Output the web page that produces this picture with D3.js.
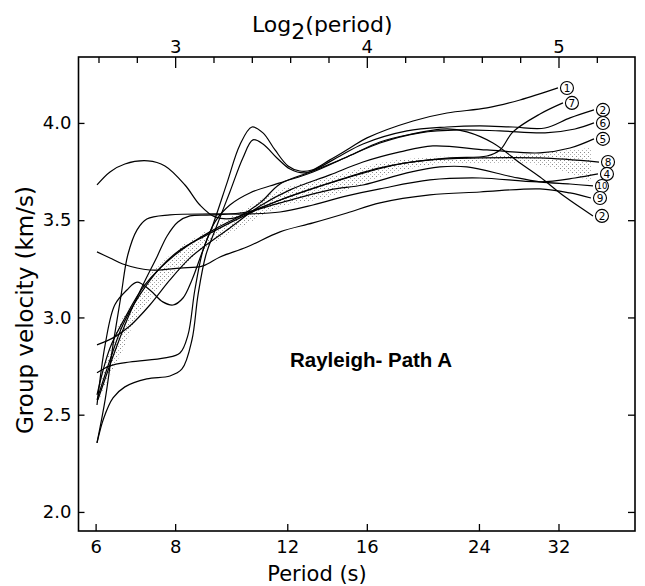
<!DOCTYPE html>
<html>
<head>
<meta charset="utf-8">
<script src="https://cdn.jsdelivr.net/npm/d3@7"></script>
<style>
body { margin: 0; background: #fff; }
text { font-family: "DejaVu Sans", sans-serif; fill: #000; }
</style>
</head>
<body>
<div id="chart"></div>
<script>
// [period (s), group velocity (km/s)]
var curve1 = [[6.03,2.715],[6.32,2.751],[6.79,2.771],[7.71,2.792],[8.14,2.817],[8.38,2.91],[8.59,3.141],[8.85,3.347],[9.17,3.476],[9.65,3.692],[10.11,3.887],[10.56,3.979],[10.99,3.949],[11.48,3.861],[12.03,3.779],[12.56,3.753],[13.12,3.758],[14.0,3.81],[15.05,3.871],[16.01,3.923],[18.91,4.01],[21.38,4.051],[24.71,4.077],[27.84,4.118],[31.94,4.18]];
var curve2 = [[6.03,2.355],[6.18,2.483],[6.39,2.586],[6.67,2.643],[7.22,2.684],[7.85,2.699],[8.2,2.735],[8.5,2.884],[8.69,3.116],[8.94,3.321],[9.27,3.46],[9.75,3.645],[10.22,3.82],[10.6,3.913],[10.99,3.892],[11.56,3.82],[12.12,3.763],[12.79,3.743],[13.51,3.774],[14.52,3.83],[15.78,3.892],[18.5,3.959],[21.38,3.979],[24.09,3.985],[27.14,3.979],[30.48,3.974],[33.36,4.026],[36.38,4.067]];
var curve6 = [[6.03,2.55],[6.21,2.859],[6.43,3.064],[6.72,3.141],[6.97,3.182],[7.3,3.141],[7.65,3.08],[7.94,3.064],[8.23,3.1],[8.5,3.193],[8.85,3.347],[9.24,3.491],[9.75,3.578],[10.48,3.64],[11.69,3.692],[13.17,3.748],[14.89,3.825],[16.78,3.897],[19.39,3.949],[22.41,3.964],[25.9,3.959],[30.48,3.949],[33.97,3.969],[36.38,4.0]];
var curve5 = [[6.03,2.859],[6.39,2.895],[6.79,2.956],[7.3,3.064],[7.85,3.193],[8.44,3.306],[8.91,3.368],[9.75,3.46],[10.87,3.573],[12.12,3.656],[14.0,3.733],[15.78,3.799],[18.04,3.851],[20.32,3.882],[24.71,3.861],[29.93,3.846],[33.36,3.871],[36.38,3.918]];
var curve8 = [[6.03,2.576],[6.32,2.781],[6.62,2.961],[7.04,3.116],[7.57,3.254],[8.14,3.347],[8.91,3.419],[10.11,3.512],[11.69,3.604],[14.0,3.692],[16.78,3.769],[20.1,3.81],[24.09,3.82],[29.93,3.82],[37.05,3.799]];
var curve7 = [[6.03,2.602],[6.32,2.843],[6.67,2.997],[7.17,3.167],[7.99,3.321],[9.07,3.44],[10.48,3.542],[12.56,3.64],[15.05,3.722],[18.04,3.789],[21.61,3.82],[24.71,3.83],[25.9,3.861],[27.14,3.954],[29.93,4.046],[32.52,4.103]];
var curve4 = [[6.03,2.355],[6.21,2.576],[6.39,2.859],[6.58,3.116],[6.74,3.321],[6.97,3.45],[7.22,3.506],[7.85,3.527],[9.17,3.532],[10.37,3.532],[11.69,3.542],[13.17,3.578],[14.89,3.625],[16.78,3.661],[20.1,3.707],[24.09,3.717],[29.93,3.697],[33.97,3.717],[36.91,3.738]];
var curve10 = [[6.05,2.576],[6.36,2.781],[6.72,2.987],[7.12,3.167],[7.49,3.311],[7.77,3.419],[8.08,3.491],[8.44,3.522],[9.17,3.527],[10.37,3.542],[11.69,3.589],[14.0,3.656],[15.78,3.681],[18.5,3.743],[20.84,3.774],[22.98,3.774],[27.14,3.722],[29.93,3.697],[33.36,3.686],[36.25,3.676]];
var curve9 = [[6.03,3.337],[6.32,3.306],[6.62,3.275],[7.3,3.244],[8.14,3.254],[8.85,3.265],[9.41,3.311],[10.37,3.362],[11.69,3.44],[13.17,3.486],[14.89,3.537],[16.78,3.589],[20.1,3.63],[24.09,3.645],[29.93,3.661],[33.36,3.64],[35.99,3.614]];
var curve3 = [[6.03,3.681],[6.32,3.748],[6.67,3.789],[7.25,3.805],[7.71,3.779],[8.29,3.681],[8.75,3.578],[9.24,3.517],[9.93,3.512],[10.87,3.589],[11.69,3.686],[13.17,3.753],[14.89,3.825],[16.78,3.902],[18.5,3.938],[21.38,3.969],[22.98,3.954],[25.25,3.897],[27.84,3.794],[29.93,3.722],[32.76,3.62],[36.25,3.522]];

var curves = [curve1, curve7, curve2, curve6, curve5, curve8, curve4, curve10, curve9, curve3];
var curveLabels = ["1", "7", "2", "6", "5", "8", "4", "10", "9", "2"];

// stippled band
var bandPeriod = [6.03, 6.32, 6.62, 6.97, 7.3, 7.65, 8.14, 8.75, 10.37, 11.69, 14.0, 16.78, 20.1, 24.09, 29.93, 36.12];
var bandLow    = [2.55, 2.704, 2.833, 3.003, 3.09, 3.177, 3.234, 3.337, 3.481, 3.568, 3.62, 3.722, 3.784, 3.794, 3.784, 3.697];
var bandHigh   = [2.602, 2.833, 3.003, 3.1, 3.218, 3.285, 3.362, 3.424, 3.563, 3.656, 3.722, 3.794, 3.825, 3.825, 3.846, 3.871];

var periodTicks = [6, 8, 12, 16, 24, 32];
var log2Ticks = [3, 4, 5];
var log2Minor = [2.6, 2.8, 3.2, 3.4, 3.6, 3.8, 4.2, 4.4, 4.6, 4.8, 5.2];
var velocityTicks = [2.0, 2.5, 3.0, 3.5, 4.0];

var W = 645, H = 586;
var plot = {left: 78.5, right: 635, top: 57, bottom: 531};

var svg = d3.select("#chart").append("svg")
	.attr("width", W)
	.attr("height", H);

var x = d3.scaleLog().base(2)
	.domain([5.64, 42.2])
	.range([plot.left, plot.right]);

var xTop = d3.scaleLinear()
	.domain([Math.log2(5.64), Math.log2(42.2)])
	.range([plot.left, plot.right]);

var y = d3.scaleLinear()
	.domain([1.902, 4.339])
	.range([plot.bottom, plot.top]);

// dotted fill for the band
var pat = svg.append("defs").append("pattern")
	.attr("id", "stipple")
	.attr("width", 4).attr("height", 4)
	.attr("patternUnits", "userSpaceOnUse");
pat.append("rect").attr("x", 0).attr("y", 0).attr("width", 1).attr("height", 1).style("fill", "#8a8a8a");
pat.append("rect").attr("x", 2).attr("y", 2).attr("width", 1).attr("height", 1).style("fill", "#b0b0b0");

var band = d3.area()
	.curve(d3.curveCatmullRom.alpha(0.5))
	.x(function(d, i) { return x(bandPeriod[i]); })
	.y0(function(d, i) { return y(bandLow[i]); })
	.y1(function(d, i) { return y(bandHigh[i]); });

svg.append("path")
	.datum(bandPeriod)
	.attr("d", band)
	.style("fill", "url(#stipple)");

var line = d3.line()
	.curve(d3.curveCatmullRom.alpha(0.5))
	.x(function(d) { return x(d[0]); })
	.y(function(d) { return y(d[1]); });

for (var i = 0; i < curves.length; i++) {
	svg.append("path")
		.datum(curves[i])
		.attr("d", line)
		.style("fill", "none")
		.style("stroke", "#000")
		.style("stroke-width", 1.2);
}

// circled curve numbers at the right end of each curve
for (var i = 0; i < curves.length; i++) {
	var last = curves[i][curves[i].length - 1];
	var g = svg.append("g")
		.attr("transform", "translate(" + (x(last[0]) + 9) + "," + y(last[1]) + ")");
	g.append("circle")
		.attr("r", 6.5)
		.style("fill", "#fff")
		.style("stroke", "#000")
		.style("stroke-width", 1.1);
	g.append("text")
		.attr("text-anchor", "middle")
		.attr("dy", "0.36em")
		.style("font-size", curveLabels[i].length > 1 ? "8.5px" : "10.5px")
		.text(curveLabels[i]);
}

// axes
function styleAxis(g) {
	g.select(".domain").remove();
	g.selectAll(".tick line").style("stroke", "#000").style("stroke-width", 1.3);
	g.selectAll(".tick text").style("font-size", "18px").style("font-family", "DejaVu Sans, sans-serif");
}

svg.append("g")
	.attr("transform", "translate(0," + plot.bottom + ")")
	.call(d3.axisBottom(x).tickValues(periodTicks).tickFormat(d3.format("d")).tickSize(-7).tickSizeOuter(0).tickPadding(9))
	.call(styleAxis);

svg.append("g")
	.attr("transform", "translate(0," + plot.top + ")")
	.call(d3.axisTop(xTop).tickValues(log2Ticks).tickFormat(d3.format("d")).tickSize(-11).tickSizeOuter(0).tickPadding(4))
	.call(styleAxis);

svg.append("g")
	.attr("transform", "translate(0," + plot.top + ")")
	.call(d3.axisTop(xTop).tickValues(log2Minor).tickFormat("").tickSize(-6).tickSizeOuter(0))
	.call(styleAxis);

svg.append("g")
	.attr("transform", "translate(" + plot.left + ",0)")
	.call(d3.axisLeft(y).tickValues(velocityTicks).tickFormat(d3.format(".1f")).tickSize(-6).tickSizeOuter(0).tickPadding(7))
	.call(styleAxis);

svg.append("g")
	.attr("transform", "translate(" + plot.right + ",0)")
	.call(d3.axisRight(y).tickValues(velocityTicks).tickFormat("").tickSize(-7).tickSizeOuter(0))
	.call(styleAxis);

svg.append("rect")
	.attr("x", plot.left).attr("y", plot.top)
	.attr("width", plot.right - plot.left)
	.attr("height", plot.bottom - plot.top)
	.style("fill", "none")
	.style("stroke", "#000")
	.style("stroke-width", 1.6);

// titles
svg.append("text")
	.attr("x", 317).attr("y", 581)
	.attr("text-anchor", "middle")
	.style("font-size", "21px")
	.text("Period (s)");

svg.append("text")
	.attr("transform", "translate(33,310) rotate(-90)")
	.attr("text-anchor", "middle")
	.style("font-size", "23px")
	.text("Group velocity (km/s)");

var topTitle = svg.append("text")
	.attr("x", 252).attr("y", 32)
	.style("font-size", "22px");
topTitle.append("tspan").text("Log");
topTitle.append("tspan").attr("dy", 7).text("2");
topTitle.append("tspan").attr("dy", -7).text("(period)");

svg.append("text")
	.attr("x", 290).attr("y", 367)
	.style("font-family", "Liberation Sans, Arial, sans-serif")
	.style("font-weight", "bold")
	.style("font-size", "20.5px")
	.text("Rayleigh- Path A");
</script>
</body>
</html>
